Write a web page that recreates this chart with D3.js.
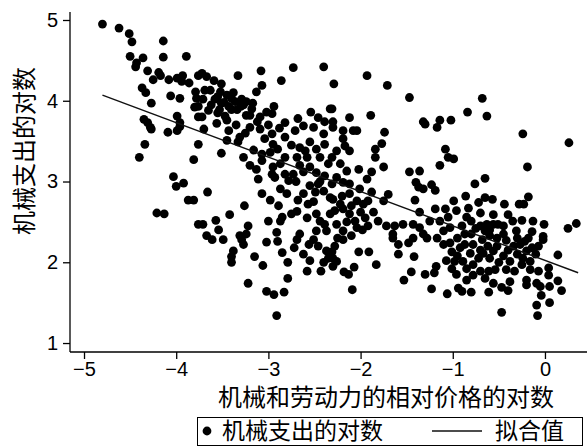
<!DOCTYPE html>
<html>
<head>
<meta charset="utf-8">
<script src="https://cdn.jsdelivr.net/npm/d3@7"></script>
<style>
body { margin: 0; background: #fff; }
svg text { font-family: "Liberation Sans", Arial, sans-serif; fill: #000; }
svg text.zh { font-family: "Noto Sans CJK SC", sans-serif; }
</style>
</head>
<body>
<svg width="587" height="448"></svg>
<script>
// 观测点：机械和劳动力相对价格的对数 (x) / 机械支出的对数 (y)
const ptsWest = [
  [-4.80,4.95],[-4.62,4.90],[-4.51,4.83],[-4.48,4.73],[-4.14,4.74],[-4.50,4.55],[-4.36,4.53],
  [-4.43,4.47],[-4.44,4.42],[-4.14,4.54],[-3.89,4.55],[-4.31,4.37],[-4.19,4.35],[-4.25,4.26],
  [-4.17,4.31],[-4.08,4.26],[-3.99,4.28],[-3.93,4.31],[-3.94,4.24],[-3.86,4.22],[-3.76,4.31],
  [-4.37,4.16],[-4.33,4.10],[-4.06,4.06],[-3.96,4.03],[-4.27,3.97],[-3.79,4.11],[-3.78,4.03],
  [-3.76,3.93],[-3.80,3.92],[-3.99,3.81],[-4.35,3.77],[-4.31,3.73],[-3.76,3.80],[-3.96,3.73],
  [-4.28,3.67],[-4.27,3.65],[-4.34,3.46],[-4.40,3.30],[-4.09,3.61],[-3.99,3.63],[-3.96,3.68],
  [-3.76,3.46],[-3.81,3.27],[-4.03,3.06],[-4.00,2.94],[-3.92,2.98],[-3.87,2.77],[-3.81,2.77],
  [-4.21,2.61],[-4.13,2.60],[-3.76,2.47]
];
const ptsCore = [
  [-3.33,4.31],[-3.08,4.37],[-2.73,4.41],[-2.40,4.42],[-3.07,4.19],[-2.86,4.25],[-3.13,4.11],
  [-3.72,4.34],[-3.67,4.30],[-3.59,4.25],[-3.51,4.21],[-3.69,4.13],[-3.63,4.13],[-3.52,4.11],
  [-3.71,4.02],[-3.58,4.02],[-3.51,3.97],[-3.45,4.07],[-3.40,4.03],[-3.43,3.93],[-3.36,3.99],
  [-3.29,4.02],[-3.24,3.99],[-3.27,3.95],[-3.17,3.97],[-3.34,3.89],[-3.40,3.89],[-3.53,3.89],
  [-3.47,3.81],[-3.24,3.82],[-3.20,3.82],[-3.02,3.86],[-2.96,3.84],[-2.94,3.93],[-3.09,3.80],
  [-3.72,3.80],[-3.45,3.76],[-2.82,3.73],[-2.68,3.78],[-2.54,3.86],[-2.46,3.79],[-2.39,3.74],
  [-2.33,3.90],
  [-3.55,4.05],[-3.48,3.98],[-3.62,3.95],[-3.38,4.10],[-3.30,3.93],[-3.55,3.85],[-3.65,3.88],
  [-3.18,3.90],[-3.12,3.74],[-3.00,3.70],[-2.88,3.66],[-3.35,3.70],[-3.56,3.72],[-3.25,3.60],
  [-3.70,3.65],[-3.43,3.63],[-3.31,3.55],[-3.33,3.49],[-3.45,3.51],[-3.51,3.35],[-3.20,3.67],
  [-3.09,3.65],[-3.04,3.53],[-2.96,3.59],[-2.95,3.46],[-2.82,3.55],[-2.71,3.63],[-2.62,3.69],
  [-2.51,3.67],[-2.40,3.59],[-2.66,3.42],[-2.55,3.49],[-2.48,3.40],[-2.39,3.46],[-3.16,3.39],
  [-3.27,3.30],[-3.07,3.34],[-2.98,3.36],[-3.07,3.26],[-3.20,3.20],[-3.13,3.15],[-2.82,3.30],
  [-2.87,3.22],[-2.95,3.18],[-2.69,3.30],[-2.58,3.30],[-2.66,3.20],[-2.55,3.18],[-2.73,3.09],
  [-2.96,3.09],[-2.93,3.05],[-3.11,3.03],[-2.82,3.09],[-2.48,3.11],[-2.39,3.07],[-2.46,2.97],
  [-2.78,3.01],[-2.87,2.91],[-3.07,2.85],[-2.80,2.85],[-2.98,2.77],[-2.89,2.70],[-2.68,2.77],
  [-2.49,2.87],[-2.57,2.72],[-2.51,2.75],[-3.66,2.87],[-3.26,2.70],[-3.42,2.59],[-3.57,2.52],
  [-3.71,2.47],[-3.54,2.40],[-3.22,2.45],[-3.00,2.51],[-2.87,2.51],[-2.85,2.56],[-2.69,2.63],
  [-2.48,2.60],[-2.44,2.51],[-2.39,2.47],[-2.37,2.39],[-2.48,2.39],[-2.91,2.37],[-3.31,2.33],
  [-3.24,2.35],[-2.66,2.35],[-3.67,2.33],
  [-2.75,3.45],[-2.60,3.38],[-2.44,3.30],[-2.35,3.22],[-2.62,3.12],[-2.70,3.00],[-2.55,2.95],
  [-2.40,2.88],[-2.62,2.85],[-2.33,2.80],[-2.75,2.60],[-2.58,2.55],[-2.33,2.60],[-2.90,3.40],
  [-2.44,3.00],
  [-3.61,2.28],[-3.49,2.28],[-3.29,2.28],[-3.27,2.22],[-3.38,2.14],[-3.40,2.07],[-3.40,2.00],
  [-3.15,2.07],[-3.06,1.96],[-3.02,2.25],[-2.90,2.26],[-2.69,2.28],[-2.79,2.00],[-2.79,1.80],
  [-3.22,1.74],[-3.02,1.64],[-2.94,1.60],[-2.83,1.63],[-2.91,1.34],[-2.58,1.89],[-2.43,1.89],
  [-2.56,2.22],[-2.46,2.20],[-2.37,2.14],[-2.51,2.28],[-2.35,2.05],
  [-2.72,2.18],[-2.62,2.10],[-2.55,2.02],[-2.85,2.12],[-2.40,2.00]
];
const ptsMid = [
  [-2.29,4.21],[-1.93,4.31],[-1.71,4.19],[-1.47,4.04],[-2.31,3.90],[-2.12,3.79],[-1.89,3.82],
  [-2.30,3.74],[-1.32,3.74],[-1.14,3.76],[-1.02,3.76],
  [-1.74,3.61],[-1.17,3.67],[-1.30,3.71],[-1.08,3.40],[-1.05,3.30],[-0.99,3.28],[-1.14,3.20],
  [-1.84,3.40],[-1.77,3.47],[-1.84,3.30],[-1.75,3.18],[-1.88,3.12],[-1.93,3.03],[-2.02,3.15],
  [-1.47,3.12],[-1.36,3.13],[-1.40,2.99],[-1.37,2.93],[-1.32,2.91],[-1.23,2.96],[-1.19,2.89],
  [-1.41,2.77],[-1.70,2.84],[-1.75,2.76],[-1.88,2.87],[-1.92,2.76],[-1.97,2.72],[-2.04,2.76],
  [-1.36,2.62],[-1.19,2.66],[-1.08,2.66],[-0.99,2.76],[-0.96,2.64],[-1.05,2.56],[-1.25,2.51],
  [-1.14,2.51],[-1.86,2.62],[-1.81,2.51],[-1.92,2.45],[-1.72,2.45],[-1.63,2.45],[-1.54,2.47],
  [-1.43,2.47],[-1.36,2.43],[-1.65,2.35],[-1.32,2.35],[-1.10,2.39],[-1.03,2.43],[-2.06,2.51],
  [-2.04,2.43],[-2.19,2.39],[-2.26,2.47],[-2.12,2.60],[-2.19,2.66],[-2.28,2.64],
  [-2.30,3.67],[-2.19,3.63],[-2.08,3.63],[-2.04,3.63],[-2.19,3.53],[-2.17,3.44],[-2.12,3.38],
  [-2.26,3.38],[-2.31,3.30],[-2.22,3.22],[-2.15,3.13],[-2.26,3.05],[-2.31,2.97],[-2.19,2.99],
  [-2.12,2.97],[-2.01,2.91],[-2.12,2.85],[-2.20,2.82],[-2.30,2.78],[-2.22,2.72],
  [-2.10,2.70],[-2.00,2.62],[-2.15,2.50],[-1.98,2.40],[-2.25,2.30],[-2.10,2.33],[-1.95,2.55],
  [-2.28,2.20],
  [-2.31,2.13],[-2.30,2.05],[-2.26,2.01],[-2.30,1.95],[-2.19,2.28],[-2.02,2.13],[-1.91,2.13],
  [-1.83,1.97],[-2.07,1.94],[-2.18,1.88],[-2.13,1.85],[-2.09,1.66],[-1.65,2.30],[-1.59,2.22],
  [-1.48,2.24],[-1.43,2.30],[-1.28,2.30],[-1.17,2.30],[-1.10,2.22],[-1.03,2.24],[-1.59,2.10],
  [-1.42,2.07],[-1.01,2.13],[-1.07,2.02],[-0.98,2.01],[-1.18,1.95],[-1.20,1.87],[-1.01,1.92],
  [-0.96,1.85],[-1.45,1.88],[-1.30,1.85],[-1.53,1.78],[-1.23,1.67],[-1.06,1.61],[-0.94,1.68]
];
const ptsEast = [
  [-0.68,4.03],[-0.84,3.86],[-0.63,3.81],
  [-0.24,3.59],[0.26,3.48],[-0.19,3.18],[-0.65,3.04],[-0.76,2.97],[-0.86,2.82],[-0.65,2.80],
  [-0.57,2.78],[-0.72,2.74],[-0.44,2.72],[-0.28,2.72],[-0.23,2.72],[-0.18,2.81],[-0.83,2.67],
  [-0.70,2.61],[-0.85,2.56],[-0.80,2.51],[-0.56,2.59],[-0.40,2.59],[-0.35,2.51],[-0.25,2.52],
  [-0.13,2.51],[-0.01,2.47],[0.25,2.42],[0.34,2.48],[-0.63,2.47],[-0.56,2.47],[-0.51,2.47],
  [-0.70,2.45],[-0.90,2.45],[-0.87,2.35],[-0.80,2.35],[-0.65,2.39],[-0.45,2.35],[-0.31,2.39],
  [-0.14,2.38],[-0.02,2.32],[-0.60,2.33],
  [-0.75,2.42],[-0.60,2.40],[-0.45,2.45],[-0.30,2.30],[-0.42,2.27],[-0.68,2.28],[-0.52,2.30],
  [-0.18,2.30],[-0.10,2.10],[-0.30,2.10],[-0.45,2.08],[-0.60,2.05],[-0.72,2.05],[-0.50,2.00],
  [-0.25,1.97],[-0.85,1.92],[-0.70,2.15],[-0.62,2.20],[-0.40,2.15],[-0.20,2.14],[-0.95,2.30],
  [-0.92,2.18],[-0.95,2.08],
  [0.14,2.09],[-0.87,2.22],[-0.78,2.22],[-0.81,2.11],[-0.67,2.11],[-0.56,2.14],[-0.52,2.20],
  [-0.34,2.20],[-0.27,2.22],[-0.22,2.26],[-0.14,2.18],[-0.07,2.20],[-0.02,2.28],[-0.89,2.01],
  [-0.78,1.97],[-0.70,1.89],[-0.61,1.89],[-0.54,1.91],[-0.42,1.91],[-0.38,2.01],[-0.33,1.89],
  [-0.24,2.05],[-0.16,2.01],[-0.16,1.91],[-0.07,1.89],[0.04,1.93],[0.04,1.84],[-0.85,1.78],
  [-0.78,1.84],[-0.65,1.80],[-0.56,1.74],[-0.47,1.69],[-0.40,1.65],[-0.38,1.76],[-0.20,1.78],
  [-0.20,1.72],[-0.09,1.74],[-0.05,1.70],[0.05,1.70],[0.14,1.77],[0.18,1.65],[-0.90,1.64],
  [-0.80,1.63],[-0.61,1.63],[-0.04,1.59],[-0.09,1.47],[0.05,1.50],[-0.47,1.38],[-0.08,1.34]
];
// 拟合值：回归直线两端
const fitLine = [[-4.80, 4.07], [0.36, 1.87]];

const xTicks = [-5, -4, -3, -2, -1, 0];
const yTicks = [1, 2, 3, 4, 5];
const xTitle = "机械和劳动力的相对价格的对数";
const yTitle = "机械支出的对数";
const legendLabels = ["机械支出的对数", "拟合值"];

const points = ptsWest.concat(ptsCore, ptsMid, ptsEast);

const svg = d3.select("svg"),
    width = +svg.attr("width"),
    height = +svg.attr("height");

const x = d3.scaleLinear().domain([-5.152, 0.456]).range([70, 587]);
const y = d3.scaleLinear().domain([0.889, 5.099]).range([352, 12]);

const fmt = d => d < 0 ? "\u2212" + Math.abs(d) : String(d);

// 坐标轴
const xAxis = svg.append("g")
    .attr("transform", "translate(0,352)")
    .call(d3.axisBottom(x).tickValues(xTicks).tickSize(7).tickPadding(3).tickFormat(fmt));
const yAxis = svg.append("g")
    .attr("transform", "translate(70,0)")
    .call(d3.axisLeft(y).tickValues(yTicks).tickSize(7).tickPadding(5).tickFormat(fmt));

[xAxis, yAxis].forEach(a => {
    a.select(".domain").attr("stroke", "#000").attr("stroke-width", 1.3);
    a.selectAll(".tick line").attr("stroke", "#000").attr("stroke-width", 1.3);
    a.selectAll(".tick text").attr("font-size", 20)
        .style("font-family", "'Liberation Sans', Arial, sans-serif");
});
xAxis.select(".domain").attr("d", "M70,0H587");
yAxis.select(".domain").attr("d", "M0,12V352");

// 散点
svg.append("g")
    .selectAll("circle")
    .data(points)
    .enter()
    .append("circle")
    .attr("cx", d => x(d[0]))
    .attr("cy", d => y(d[1]))
    .attr("r", 4.4)
    .attr("fill", "#000");

// 拟合线
svg.append("path")
    .datum(fitLine)
    .attr("fill", "none")
    .attr("stroke", "#111")
    .attr("stroke-width", 1.4)
    .attr("d", d3.line().x(d => x(d[0])).y(d => y(d[1])));

// 轴标题
svg.append("text")
    .attr("class", "zh")
    .attr("x", 386)
    .attr("y", 406)
    .attr("text-anchor", "middle")
    .attr("font-size", 24)
    .text(xTitle);
svg.append("text")
    .attr("class", "zh")
    .attr("transform", "translate(33,151) rotate(-90)")
    .attr("text-anchor", "middle")
    .attr("font-size", 24)
    .text(yTitle);

// 图例
const lg = svg.append("g");
lg.append("rect")
    .attr("x", 197.5).attr("y", 417.5)
    .attr("width", 385).attr("height", 28)
    .attr("fill", "#fff").attr("stroke", "#000").attr("stroke-width", 1);
lg.append("circle").attr("cx", 207).attr("cy", 431).attr("r", 4.4).attr("fill", "#000");
lg.append("text").attr("class", "zh")
    .attr("x", 222).attr("y", 439).attr("font-size", 23).text(legendLabels[0]);
lg.append("line")
    .attr("x1", 432).attr("x2", 482).attr("y1", 431).attr("y2", 431)
    .attr("stroke", "#111").attr("stroke-width", 1.4);
lg.append("text").attr("class", "zh")
    .attr("x", 495).attr("y", 439).attr("font-size", 23).text(legendLabels[1]);
</script>
</body>
</html>
